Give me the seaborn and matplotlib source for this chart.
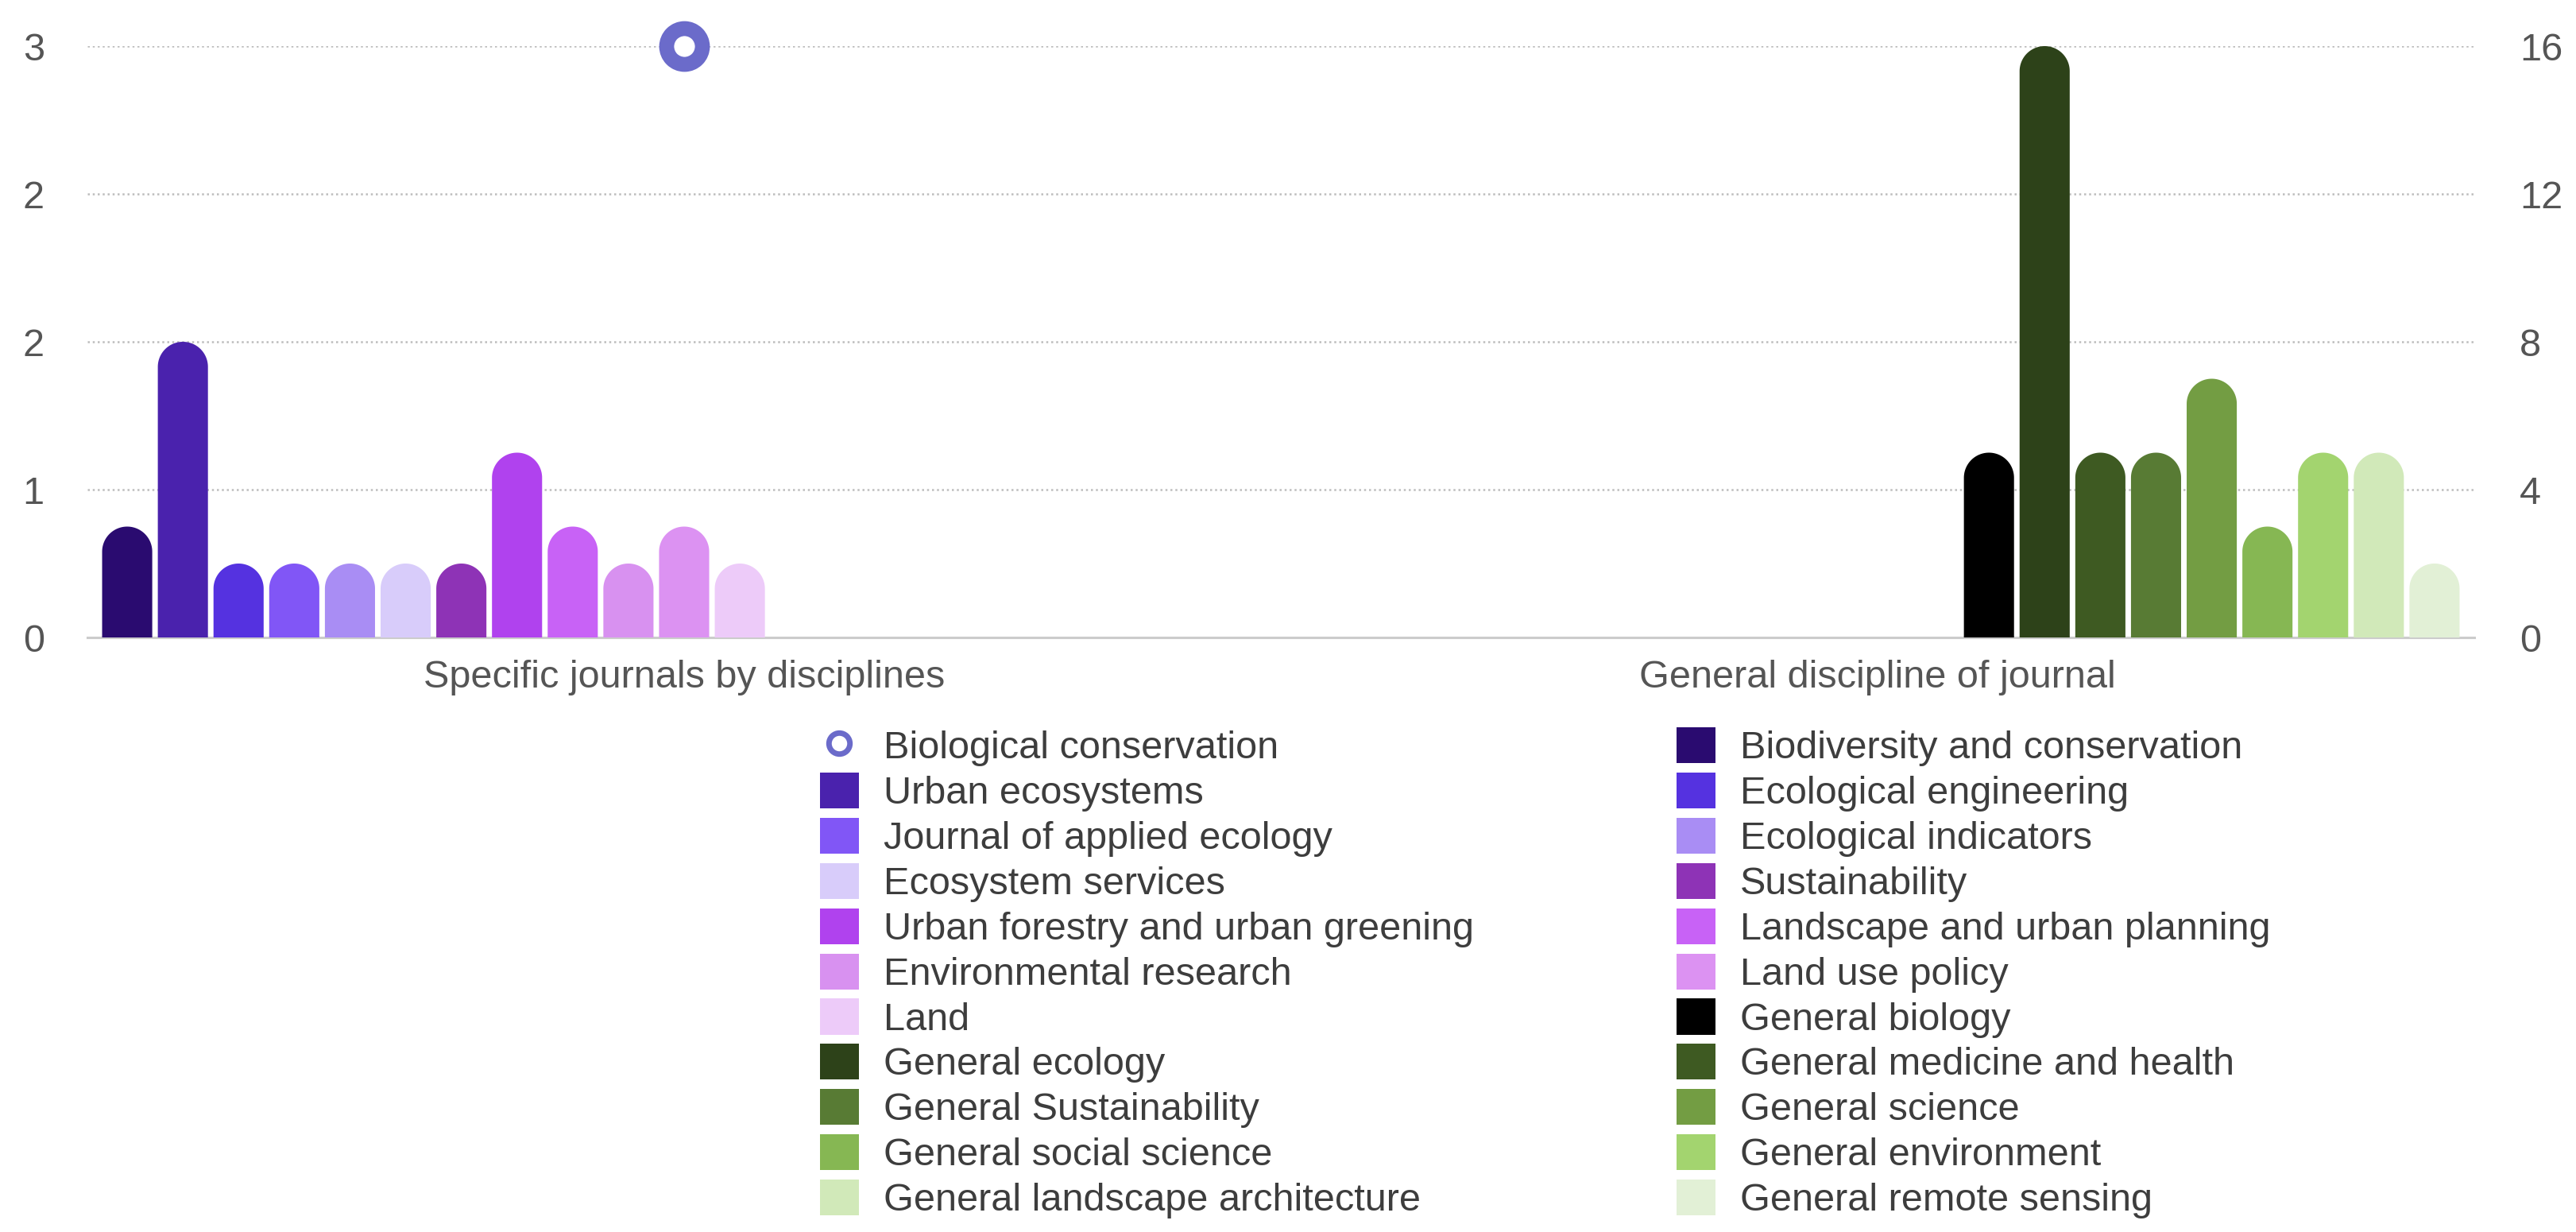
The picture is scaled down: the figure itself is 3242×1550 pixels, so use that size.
import numpy as np
import pandas as pd
import matplotlib
matplotlib.use("Agg")
import matplotlib.pyplot as plt
import matplotlib.patches as mpatches
from matplotlib.path import Path
from matplotlib.lines import Line2D
import seaborn as sns

# ---------------- data ----------------
categories = ["Specific journals by disciplines", "General discipline of journal"]

scatter_name = "Biological conservation"
scatter_category = "Specific journals by disciplines"
scatter_value = [3]  # left axis

specific_names = [
    "Biodiversity and conservation", "Urban ecosystems", "Ecological engineering",
    "Journal of applied ecology", "Ecological indicators", "Ecosystem services",
    "Sustainability", "Urban forestry and urban greening", "Landscape and urban planning",
    "Environmental research", "Land use policy", "Land",
]
specific_values = [3, 8, 2, 2, 2, 2, 2, 5, 3, 2, 3, 2]

general_names = [
    "General biology", "General ecology", "General medicine and health",
    "General Sustainability", "General science", "General social science",
    "General environment", "General landscape architecture", "General remote sensing",
]
general_values = [5, 16, 5, 5, 7, 3, 5, 5, 2]

specific_colors = ["#2a0b70", "#4a22ad", "#5532e0", "#8156f6", "#a98df4", "#d8ccfa",
                   "#8e33b6", "#b042ee", "#c862f6", "#d891f0", "#dc92f2", "#edcbf9"]
general_colors = ["#000000", "#2d4219", "#3e5a22", "#587b34", "#739d43", "#86b753",
                  "#a3d46f", "#d1e9b9", "#e2f0d6"]
scatter_color = "#6b6bca"

left_ticks = [0, 0.75, 1.5, 2.25, 3]
left_tick_labels = ["0", "1", "2", "2", "3"]
right_ticks = [0, 4, 8, 12, 16]

# ---------------- table ----------------
bar_names = specific_names + general_names
df = pd.DataFrame({
    "category": [categories[0]] * len(specific_names) + [categories[1]] * len(general_names),
    "journal": bar_names,
    "value": specific_values + general_values,
})
palette = dict(zip(bar_names, specific_colors + general_colors))

# ---------------- style ----------------
sns.set_theme(style="white")
plt.rcParams["font.family"] = ["Liberation Sans", "DejaVu Sans"]

W, H = 3242, 1550
fig = plt.figure(figsize=(W / 100, H / 100), dpi=100)
ax_l, ax_r, ax_t, ax_b = 110, 3114, 58, 802
ax = fig.add_axes([ax_l / W, 1 - ax_b / H, (ax_r - ax_l) / W, (ax_b - ax_t) / H])
ax2 = ax.twinx()

sns.barplot(data=df, x="category", y="value", hue="journal", order=categories,
            hue_order=bar_names, palette=palette, width=0.98, gap=0.1, dodge=True,
            errorbar=None, legend=False, saturation=1, ax=ax2, linewidth=0)

sns.scatterplot(x=[categories.index(scatter_category)], y=scatter_value, ax=ax,
                s=1050, facecolor="white", edgecolor=scatter_color, linewidth=13.5,
                clip_on=False, zorder=5, legend=False)

ax.set_xlim(-0.5, 1.5)
ax.set_ylim(0, 3)
ax2.set_ylim(0, 16)

ax.set_yticks(left_ticks)
ax.set_yticklabels(left_tick_labels)
ax2.set_yticks(right_ticks)
ax2.set_yticklabels([str(t) for t in right_ticks])
ax.set_xticks([0, 1])
ax.set_xticklabels(categories)
ax.set_xlabel("")
ax.set_ylabel("")
ax2.set_xlabel("")
ax2.set_ylabel("")

ax.grid(axis="y", color="#bdbdbd", linestyle=(0, (1, 1.5)), linewidth=1.8)
ax.grid(axis="x", visible=False)
ax2.grid(False)
for s in ["top", "left", "right"]:
    ax.spines[s].set_visible(False)
for s in ax2.spines.values():
    s.set_visible(False)
ax.spines["bottom"].set_color("#cccccc")
ax.spines["bottom"].set_linewidth(2.2)

ax.tick_params(axis="y", length=0, pad=39, labelsize=35, labelcolor="#555555")
ax2.tick_params(axis="y", length=0, pad=41, labelsize=35, labelcolor="#555555")
ax.tick_params(axis="x", length=0, pad=20, labelsize=35, labelcolor="#555555")

# ---------------- rounded (semicircular) bar tops ----------------
p0 = ax2.transData.transform((0, 0))
px_x = ax2.transData.transform((1, 0))[0] - p0[0]
px_y = ax2.transData.transform((0, 1))[1] - p0[1]
aspect = px_x / px_y
theta = np.linspace(np.pi, 0, 60)
for bar in list(ax2.patches):
    x, w, h = bar.get_x(), bar.get_width(), bar.get_height()
    fc = bar.get_facecolor()
    bar.remove()
    if not np.isfinite(h) or h <= 0:
        continue
    r = w / 2
    ry = r * aspect
    cx, cy = x + r, h - ry
    verts = [(x, 0), (x, cy)]
    verts += list(zip(cx + r * np.cos(theta), cy + ry * np.sin(theta)))
    verts += [(x + w, 0), (x, 0)]
    codes = [Path.MOVETO] + [Path.LINETO] * (len(verts) - 2) + [Path.CLOSEPOLY]
    ax2.add_patch(mpatches.PathPatch(Path(verts, codes), facecolor=fc,
                                     edgecolor="none", linewidth=0, zorder=2))

# ---------------- legend ----------------
all_names = [scatter_name] + bar_names
handles = {scatter_name: Line2D([], [], marker="o", linestyle="None",
                                markerfacecolor="white", markeredgecolor=scatter_color,
                                markersize=19, markeredgewidth=5.0)}
for n in bar_names:
    handles[n] = mpatches.Patch(facecolor=palette[n], edgecolor="none")

col1 = all_names[0::2]
col2 = all_names[1::2]
legend_kw = dict(loc="upper left", frameon=False, fontsize=35, handlelength=1.0,
                 handleheight=1.05, handletextpad=0.64, labelspacing=0.16,
                 borderpad=0, borderaxespad=0, labelcolor="#3d3d3d")
fig.legend([handles[n] for n in col1], col1,
           bbox_to_anchor=(1032 / W, 1 - 915 / H), **legend_kw)
fig.legend([handles[n] for n in col2], col2,
           bbox_to_anchor=(2110 / W, 1 - 915 / H), **legend_kw)

fig.savefig("out.png", dpi=100, facecolor="white")
